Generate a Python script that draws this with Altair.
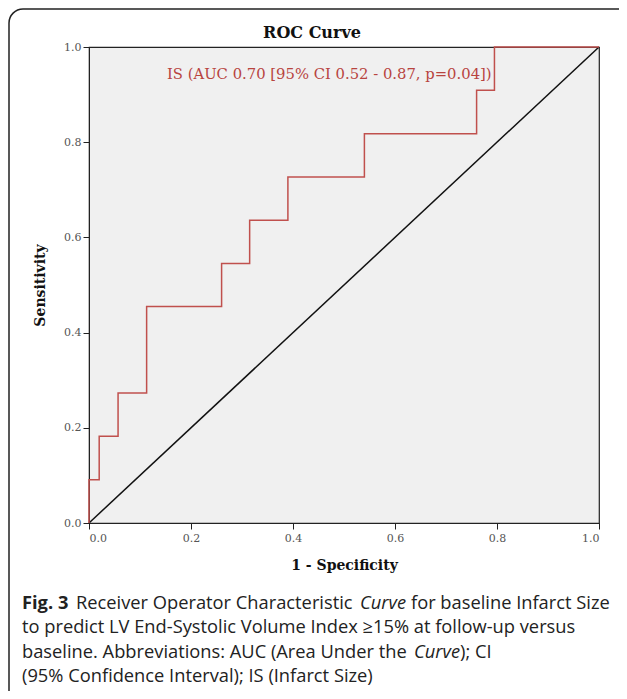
import altair as alt
import pandas as pd

# ROC step curve (1 - specificity, sensitivity)
fpr = [0.0, 0.02, 0.057, 0.113, 0.26, 0.315, 0.39, 0.54, 0.76, 0.795, 1.0]
tpr = [0.0, 0.091, 0.182, 0.273, 0.455, 0.545, 0.636, 0.727, 0.818, 0.909, 1.0]
ref_x = [0.0, 1.0]
ref_y = [0.0, 1.0]
ticks = [0.0, 0.2, 0.4, 0.6, 0.8, 1.0]

title_text = "ROC Curve"
label_text = "IS (AUC 0.70 [95% CI 0.52 - 0.87, p=0.04])"
x_title = "1 - Specificity"
y_title = "Sensitivity"

# caption segments: (text, line, x_px, weight, style)
cap_text = ["Fig. 3", "Receiver Operator Characteristic", "Curve", "for baseline Infarct Size",
            "to predict LV End-Systolic Volume Index \u226515% at follow-up versus",
            "baseline. Abbreviations: AUC (Area Under the", "Curve", "); CI",
            "(95% Confidence Interval); IS (Infarct Size)"]
cap_line = [0, 0, 0, 0, 1, 2, 2, 2, 3]
cap_x = [22, 76, 360, 411, 22, 22, 414, 460, 22]
cap_weight = ["bold", "normal", "normal", "normal", "normal", "normal", "normal", "normal", "normal"]
cap_style = ["normal", "normal", "italic", "normal", "normal", "normal", "italic", "normal", "normal"]

SERIF = "DejaVu Serif"
SANS = "Open Sans"
RED = "#c0504d"

X0, Y0 = 89, 47  # plot origin on the page

roc = pd.DataFrame({"fpr": fpr, "tpr": tpr})
ref = pd.DataFrame({"fpr": ref_x, "tpr": ref_y})

xs = alt.Scale(domain=[0, 1], nice=False, zero=True)
ys = alt.Scale(domain=[0, 1], nice=False, zero=True)

xaxis = alt.Axis(values=ticks, format=".1f", grid=False, title=x_title,
                 labelFont=SERIF, labelFontSize=11, labelColor="#555", labelPadding=3,
                 titleFont=SERIF, titleFontSize=14, titleFontWeight="bold", titleColor="#111",
                 titlePadding=15, tickSize=6, tickColor="#222", domainColor="#222")
yaxis = alt.Axis(values=ticks, format=".1f", grid=False, title=y_title,
                 labelFont=SERIF, labelFontSize=11, labelColor="#555", labelPadding=2,
                 titleFont=SERIF, titleFontSize=14, titleFontWeight="bold", titleColor="#111",
                 titlePadding=16, tickSize=6, tickColor="#222", domainColor="#222")

one = pd.DataFrame({"k": [0]})

box = alt.Chart(one).mark_rect(fillOpacity=0, stroke="#222", strokeWidth=1.5,
                               cornerRadius=14, clip=False).encode(
    x=alt.value(9 - X0), x2=alt.value(700), y=alt.value(9 - Y0), y2=alt.value(800))

diag = alt.Chart(ref).mark_line(color="#111", strokeWidth=1.5).encode(
    x=alt.X("fpr:Q", scale=xs, axis=xaxis),
    y=alt.Y("tpr:Q", scale=ys, axis=yaxis))

curve = alt.Chart(roc).mark_line(color=RED, strokeWidth=1.5, interpolate="step-before").encode(
    x=alt.X("fpr:Q", scale=xs), y=alt.Y("tpr:Q", scale=ys))

title = alt.Chart(one).mark_text(text=title_text, font=SERIF, fontSize=16, fontWeight="bold",
                                 color="#111", align="center", baseline="middle", clip=False).encode(
    x=alt.value(312 - X0), y=alt.value(33 - Y0))

label = alt.Chart(one).mark_text(text=label_text, font=SERIF, fontSize=14.8, color="#b8443f",
                                 align="left", baseline="middle").encode(
    x=alt.value(167 - X0), y=alt.value(75 - Y0))

cap_df = pd.DataFrame({"t": cap_text, "line": cap_line, "x": cap_x,
                       "w": cap_weight, "s": cap_style})
cap_df["px"] = cap_df["x"] - X0
cap_df["py"] = 609 - Y0 + cap_df["line"] * 24.4

cap_layers = []
for w in ["bold", "normal"]:
    for s in ["normal", "italic"]:
        sub = cap_df[(cap_df.w == w) & (cap_df.s == s)]
        if len(sub) == 0:
            continue
        cap_layers.append(
            alt.Chart(sub).mark_text(font=SANS, fontSize=18.3, fontWeight=w, fontStyle=s,
                                     color="#222", align="left", baseline="alphabetic",
                                     clip=False).encode(
                x=alt.X("px:Q", scale=None), y=alt.Y("py:Q", scale=None), text="t:N"))

chart = alt.layer(box, diag, curve, title, label, *cap_layers).resolve_scale(
    x="shared", y="shared").properties(
    width=510, height=476,
    autosize=alt.AutoSizeParams(type="none"),
    padding={"left": X0 - 8, "top": Y0 - 8, "right": 20, "bottom": 168},
    background="white",
).configure_view(fill="#f0f0f0", stroke="#222", strokeWidth=1.2)

chart.save("out.html", embed_options={"renderer": "svg", "actions": False})
